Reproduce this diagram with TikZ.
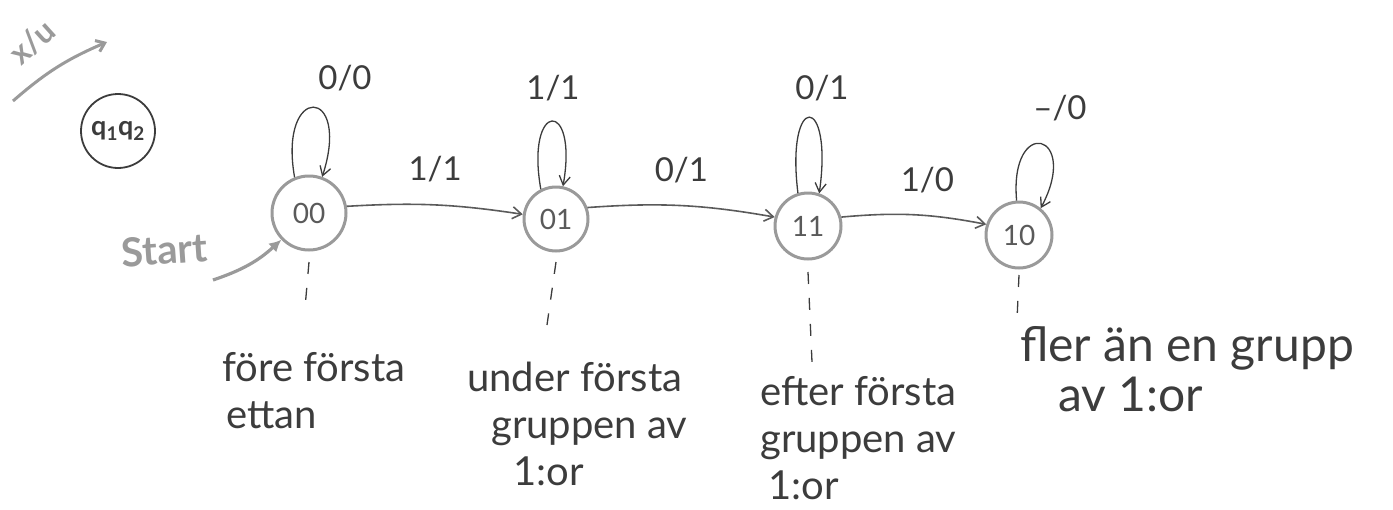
\documentclass[tikz,border=0pt]{standalone}
\usepackage{fontspec}
\setmainfont{Lato}
\usetikzlibrary{arrows.meta}
\definecolor{pencil}{HTML}{9A9A9A}
\definecolor{ink}{HTML}{5A5A5A}
\definecolor{txt}{HTML}{3C3C3C}
\tikzset{
  state/.style={circle, draw=pencil, line width=3pt, inner sep=0pt,
    font=\fontsize{28}{28}\selectfont, text=ink},
  edge/.style={draw=ink, line width=1.6pt, -{Straight Barb[length=9pt,width=12pt,line width=1.6pt]}},
  loopedge/.style={draw=txt, line width=1.3pt, -{Straight Barb[length=9pt,width=11pt,line width=1.3pt]}},
  lbl/.style={font=\fontsize{33}{33}\selectfont, text=txt, inner sep=0pt},
  note/.style={font=\fontsize{40}{47}\selectfont, text=txt, align=left, anchor=north west, inner sep=0pt},
  guide/.style={draw=txt, line width=1.3pt, dash pattern=on 12pt off 14pt}
}
\begin{document}
\begin{tikzpicture}[x=1pt,y=1pt]
\useasboundingbox (0,0) rectangle (1393,-509);

% legend: input/output arrow and the state variables
\node[lbl, text=pencil, rotate=42, font=\fontsize{32}{32}\selectfont\bfseries] (xu) at (32,-42) {x/u};
\coordinate (lg1) at (13,-101);
\coordinate (lg2) at (107,-42);
\draw[draw=pencil, line width=3pt, -{Straight Barb[length=8pt,width=12pt,line width=3pt]}] (lg1) to[bend left=9] (lg2);
\node[state, draw=txt, line width=1.8pt, minimum size=74pt, text=txt, font=\fontsize{27}{27}\selectfont\bfseries] (qq) at (118,-131) {q\textsubscript{1}q\textsubscript{2}};

% states
\node[state, minimum size=74pt] (s00) at (309,-213) {00};
\node[state, minimum size=64pt] (s01) at (556,-219) {01};
\node[state, minimum size=66pt] (s11) at (808,-226) {11};
\node[state, minimum size=66pt] (s10) at (1019,-235) {10};

% start arrow
\node[lbl, text=pencil, font=\fontsize{40}{40}\selectfont\bfseries, rotate=4] (start) at (164,-250) {Start};
\coordinate (st) at (213,-280);
\draw[draw=pencil, line width=3.2pt, -{Latex[length=12pt,width=12pt]}] (st) to[bend right=12] (s00.224);

% transitions
\draw[edge] (s00.10) to[bend left=6] node[lbl, above=22pt] (l1) {1/1} (s01.172);
\draw[edge] (s01.20) to[bend left=7] node[lbl, above=22pt] (l2) {0/1} (s11.165);
\draw[edge] (s11.15) to[bend left=8] node[lbl, pos=0.6, above=22pt] (l3) {1/0} (s10.162);

% self loops
\draw[loopedge] (s00.112) .. controls +(100:96pt) and +(72:96pt) .. (s00.70);
\node[lbl] (l00) at (345,-78) {0/0};
\draw[loopedge] (s01.117) .. controls +(100:90pt) and +(80:90pt) .. (s01.78);
\node[lbl] (l01) at (553,-88) {1/1};
\draw[loopedge] (s11.107) .. controls +(97:102pt) and +(82:102pt) .. (s11.71);
\node[lbl] (l11) at (822,-88) {0/1};
\draw[loopedge] (s10.94) .. controls +(95:86pt) and +(62:86pt) .. (s10.51);
\node[lbl] (l10) at (1060,-108) {--/0};

% guide lines to the descriptions
\coordinate (g00) at (305,-308);
\coordinate (g01) at (547,-325);
\coordinate (g11) at (812,-362);
\coordinate (g10) at (1017,-320);
\draw[guide] (s00.south |- 0,-262) -- (g00);
\draw[guide] (s01.south |- 0,-262) -- (g01);
\draw[guide] (s11.south |- 0,-272) -- (g11);
\draw[guide] (s10.south |- 0,-275) -- (g10);

% descriptions of the states
\node[note] (d00) at (222,-352) {före första\\\hspace*{4pt}ettan};
\node[note] (d01) at (467,-362) {under första\\\hspace*{24pt}gruppen av\\\hspace*{46pt}1:or};
\node[note] (d11) at (760,-376) {efter första\\gruppen av\\\hspace*{8pt}1:or};
\node[note, font=\fontsize{48}{50}\selectfont] (d10) at (1020,-326) {fler än en grupp\\\hspace*{38pt}av 1:or};
\end{tikzpicture}
\end{document}
